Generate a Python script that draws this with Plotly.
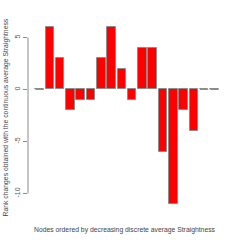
import plotly.graph_objects as go

values = [0, 6, 3, -2, -1, -1, 3, 6, 2, -1, 4, 4, -6, -11, -2, -4, 0, 0]
y_ticks = [-10, -5, 0, 5]
x_title = "Nodes ordered by decreasing discrete average Straightness"
y_title = "Rank changes obtained with the continuous average Straightness"

n = len(values)
xpos = [0.7 + 1.2 * i for i in range(n)]
x_lo, x_hi = 0.2, 1.2 * n
pad_x = 0.04 * (x_hi - x_lo)
y_lo, y_hi = min(values), max(values)
pad_y = 0.04 * (y_hi - y_lo)

font = "Liberation Sans, Arial"
edge = "#8c8c8c"
fig = go.Figure()
fig.add_trace(go.Bar(x=xpos, y=values, width=1,
                     marker=dict(color="#ff0000", line=dict(color=edge, width=1)),
                     showlegend=False))
# zero-height bars drawn as line segments
zx, zy = [], []
for x, v in zip(xpos, values):
    if v == 0:
        zx += [x - 0.5, x + 0.5, None]
        zy += [0, 0, None]
fig.add_trace(go.Scatter(x=zx, y=zy, mode="lines",
                         line=dict(color=edge, width=1), showlegend=False))

fig.add_shape(type="line", xref="paper", yref="y", x0=0, x1=0,
              y0=min(y_ticks), y1=max(y_ticks), line=dict(color=edge, width=1))

fig.update_xaxes(range=[x_lo - pad_x, x_hi + pad_x], visible=False)
fig.update_yaxes(range=[y_lo - pad_y, y_hi + pad_y], tickvals=y_ticks,
                 ticktext=[str(t) for t in y_ticks], ticks="outside", ticklen=4,
                 tickcolor=edge, tickangle=-90, showgrid=False, zeroline=False,
                 showline=False, tickfont=dict(size=7, color="#555555", family=font))
fig.add_annotation(text=y_title, xref="paper", yref="paper", x=-28/198, y=0.49,
                   textangle=-90, showarrow=False, xanchor="left", yanchor="middle",
                   font=dict(size=6.8, color="#444444", family=font))
fig.add_annotation(text=x_title, xref="paper", yref="paper", x=0.49, y=-0.0995,
                   showarrow=False, xanchor="center", yanchor="middle",
                   font=dict(size=6.8, color="#444444", family=font))
fig.update_layout(width=240, height=240, plot_bgcolor="white", paper_bgcolor="white",
                  margin=dict(l=28, r=14, t=20, b=29), bargap=0)
fig.write_html("out.html", config={"displayModeBar": False},
               post_script="document.body.style.margin='0';")
